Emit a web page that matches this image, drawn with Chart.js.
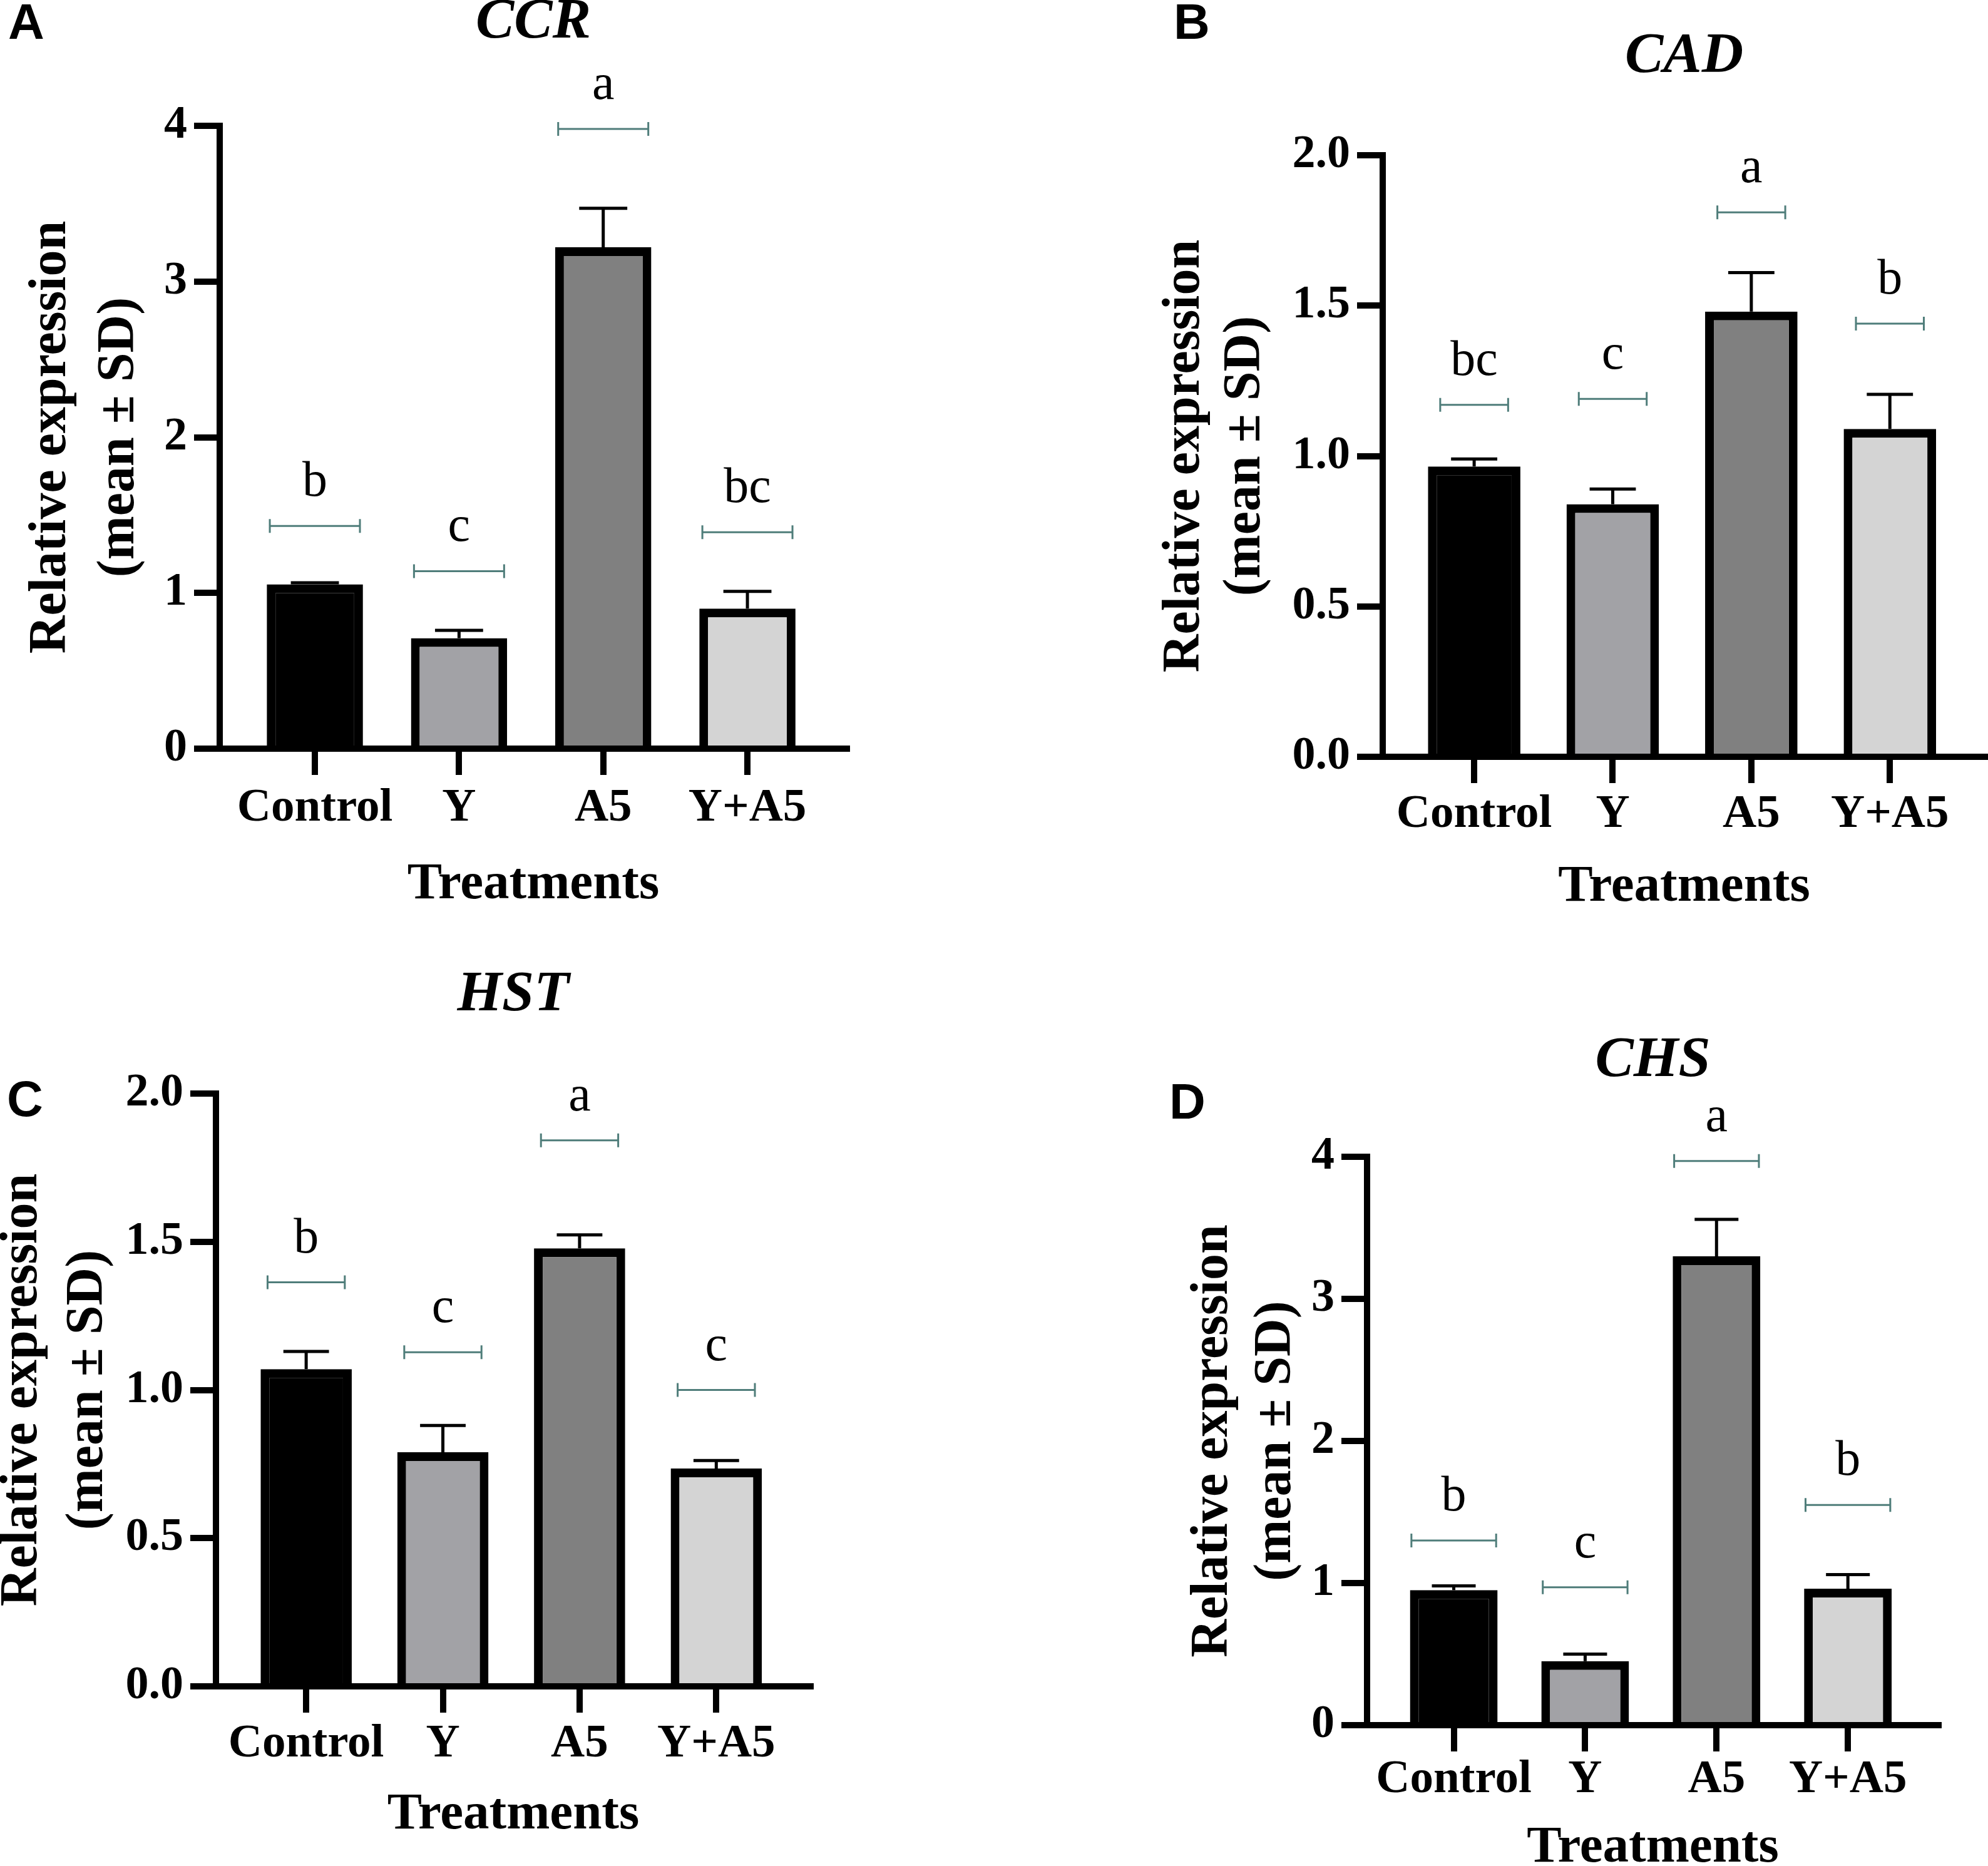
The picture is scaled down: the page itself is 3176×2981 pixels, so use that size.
<!DOCTYPE html>
<html>
<head>
<meta charset="utf-8">
<script src="https://cdn.jsdelivr.net/npm/chart.js@4.4.1/dist/chart.umd.min.js"></script>
<style>
html,body{margin:0;padding:0;background:#fff;width:3176px;height:2981px;overflow:hidden;position:relative}
canvas{position:absolute}
</style>
</head>
<body>
<canvas id="cA"></canvas>
<canvas id="cB"></canvas>
<canvas id="cC"></canvas>
<canvas id="cD"></canvas>
<script>
// ---------- data ----------
const categories = ["Control", "Y", "A5", "Y+A5"];

const ccrMeans    = [1.055, 0.71, 3.22, 0.90];
const ccrSD       = [0.01, 0.05, 0.25, 0.11];
const ccrBrackets = [1.43, 1.14, 3.98, 1.39];
const ccrLetters  = ["b", "c", "a", "bc"];

const cadMeans    = [0.965, 0.84, 1.48, 1.09];
const cadSD       = [0.025, 0.05, 0.13, 0.115];
const cadBrackets = [1.17, 1.19, 1.81, 1.44];
const cadLetters  = ["bc", "c", "a", "b"];

const hstMeans    = [1.07, 0.79, 1.478, 0.735];
const hstSD       = [0.06, 0.09, 0.045, 0.027];
const hstBrackets = [1.363, 1.127, 1.842, 1.0];
const hstLetters  = ["b", "c", "a", "c"];

const chsMeans    = [0.95, 0.45, 3.30, 0.96];
const chsSD       = [0.03, 0.05, 0.26, 0.10];
const chsBrackets = [1.30, 0.97, 3.97, 1.55];
const chsLetters  = ["b", "c", "a", "b"];

const yTicks4  = [0, 1, 2, 3, 4];
const yLabels4 = ["0", "1", "2", "3", "4"];
const yTicks2  = [0, 0.5, 1.0, 1.5, 2.0];
const yLabels2 = ["0.0", "0.5", "1.0", "1.5", "2.0"];

const barColors = ["#000000", "#a2a2a6", "#808080", "#d4d4d4"];

// ---------- layout / style ----------
const SERIF = "'Liberation Serif', 'Times New Roman', serif";
const SANS = "'Liberation Sans', Arial, sans-serif";

const panels = [
  {id:'cA', gene:'CCR', panel:'A', means:ccrMeans, sd:ccrSD, brackets:ccrBrackets, letters:ccrLetters, ticks:yTicks4, labels:yLabels4,
   cx:0, cy:0, cw:1588, ch:1490, L:351, R:1353, T:201, B:1196, yTitle1:82, yLH:1.30, xTitleY:1414, titleY:36, lx:42, ly:40, bw:0.625, xLabPad:9},
  {id:'cB', gene:'CAD', panel:'B', means:cadMeans, sd:cadSD, brackets:cadBrackets, letters:cadLetters, ticks:yTicks2, labels:yLabels2,
   cx:1588, cy:0, cw:1588, ch:1490, L:2209, R:3172, T:248, B:1209, yTitle1:1893, yLH:1.16, xTitleY:1418, titleY:91, lx:1904, ly:40, bw:0.49, xLabPad:6},
  {id:'cC', gene:'HST', panel:'C', means:hstMeans, sd:hstSD, brackets:hstBrackets, letters:hstLetters, ticks:yTicks2, labels:yLabels2,
   cx:-60, cy:1490, cw:1648, ch:1491, L:345, R:1295, T:1747, B:2694, yTitle1:36, yLH:1.25, xTitleY:2900, titleY:1590, lx:40, ly:1761, bw:0.565, xLabPad:6},
  {id:'cD', gene:'CHS', panel:'D', means:chsMeans, sd:chsSD, brackets:chsBrackets, letters:chsLetters, ticks:yTicks4, labels:yLabels4,
   cx:1588, cy:1490, cw:1588, ch:1530, L:2184, R:3097, T:1848, B:2756, yTitle1:1938, yLH:1.20, xTitleY:2953, titleY:1695, lx:1897, ly:1765, bw:0.645, xLabPad:1}
];

const annotPlugin = {
  id: 'annot',
  afterDatasetsDraw(chart, args, o) {
    const ctx = chart.ctx;
    const xs = chart.scales.x, ys = chart.scales.y;
    const meta = chart.getDatasetMeta(0);
    const step = xs.getPixelForValue(1) - xs.getPixelForValue(0);
    ctx.save();
    meta.data.forEach((bar, i) => {
      const cx = bar.x, w = bar.width;
      const yv = ys.getPixelForValue(o.means[i]);
      const ye = ys.getPixelForValue(o.means[i] + o.sd[i]);
      // error bar (upper only)
      ctx.strokeStyle = '#000';
      ctx.lineWidth = 5;
      ctx.lineCap = 'butt';
      ctx.beginPath();
      ctx.moveTo(cx, yv); ctx.lineTo(cx, ye);
      ctx.moveTo(cx - w * 0.25, ye); ctx.lineTo(cx + w * 0.25, ye);
      ctx.stroke();
      // significance bracket
      const yb = ys.getPixelForValue(o.brackets[i]);
      const hw = o.bw * step / 2;
      ctx.strokeStyle = '#4f7d7a';
      ctx.lineWidth = 3;
      ctx.beginPath();
      ctx.moveTo(cx - hw, yb); ctx.lineTo(cx + hw, yb);
      ctx.moveTo(cx - hw, yb - 11); ctx.lineTo(cx - hw, yb + 11);
      ctx.moveTo(cx + hw, yb - 11); ctx.lineTo(cx + hw, yb + 11);
      ctx.stroke();
      // letter
      ctx.fillStyle = '#000';
      ctx.font = '80px ' + SERIF;
      ctx.textAlign = 'center';
      ctx.textBaseline = 'alphabetic';
      ctx.fillText(o.letters[i], cx, yb - 48);
    });
    // panel letter
    ctx.fillStyle = '#000';
    ctx.font = 'bold 80px ' + SANS;
    ctx.textAlign = 'center';
    ctx.textBaseline = 'middle';
    ctx.fillText(o.panel, o.lx, o.ly);
    ctx.restore();
  }
};

function makeChart(p) {
  const canvas = document.getElementById(p.id);
  canvas.width = p.cw; canvas.height = p.ch;
  canvas.style.left = p.cx + 'px'; canvas.style.top = p.cy + 'px';
  canvas.style.width = p.cw + 'px'; canvas.style.height = p.ch + 'px';

  const L = p.L - p.cx, R = p.R - p.cx, T = p.T - p.cy, B = p.B - p.cy;
  const yTitleLH = 84 * p.yLH;
  const padLeft = (p.yTitle1 - p.cx) - yTitleLH / 2;
  const yWidth = L - padLeft;
  const padRight = p.cw - R;
  const xTitleLH = 83 * 1.2;
  const xScaleBottom = (p.xTitleY - p.cy) + xTitleLH / 2;
  const padBottom = p.ch - xScaleBottom;
  const xHeight = xScaleBottom - B;
  const tLH = 92 * 0.7;
  const tY = p.titleY - p.cy;
  const tPadTop = tY - tLH / 2;
  const tPadBottom = T - tY - tLH / 2;

  const axisGrid = {display:true, offset:false, drawOnChartArea:false, drawTicks:true, tickWidth:10, tickColor:'#000', color:'#000', lineWidth:10};
  const axisBorder = {display:true, color:'#000', width:10};

  new Chart(canvas, {
    type: 'bar',
    data: {
      datasets: [{
        data: p.means.map((v, i) => ({x: i, y: v})),
        backgroundColor: barColors,
        borderColor: '#000',
        borderWidth: 14,
        borderSkipped: 'start',
        barPercentage: 0.667,
        categoryPercentage: 1.0
      }]
    },
    options: {
      responsive: false,
      animation: false,
      devicePixelRatio: 1,
      events: [],
      layout: {padding: {left: padLeft, right: padRight, top: 0, bottom: padBottom}},
      scales: {
        x: {
          type: 'linear', min: -0.66, max: 3.69, offset: false, bounds: 'data',
          afterBuildTicks: s => { s.ticks = categories.map((c, i) => ({value: i})); },
          afterFit: s => { s.height = xHeight; },
          ticks: {callback: v => categories[v], font: {family: SERIF, size: 75, weight: 'bold'}, color: '#000', padding: p.xLabPad, maxRotation: 0, autoSkip: false},
          grid: Object.assign({}, axisGrid, {tickLength: 42}),
          border: axisBorder,
          title: {display: true, text: 'Treatments', font: {family: SERIF, size: 83, weight: 'bold', lineHeight: 1.2}, color: '#000', padding: 0}
        },
        y: {
          type: 'linear', min: 0, max: p.ticks[p.ticks.length - 1],
          afterBuildTicks: s => { s.ticks = p.ticks.map(v => ({value: v})); },
          afterFit: s => { s.width = yWidth; },
          ticks: {callback: (v, i) => p.labels[i], font: {family: SERIF, size: 74, weight: 'bold'}, color: '#000', padding: 11},
          grid: Object.assign({}, axisGrid, {tickLength: 41}),
          border: axisBorder,
          title: {display: true, text: ['Relative expression', '(mean \u00b1 SD)'], font: {family: SERIF, size: 84, weight: 'bold', lineHeight: p.yLH}, color: '#000', padding: 0}
        }
      },
      plugins: {
        legend: {display: false},
        tooltip: {enabled: false},
        title: {display: true, text: p.gene, fullSize: false, font: {family: SERIF, size: 92, weight: 'bold', style: 'italic', lineHeight: 0.7}, color: '#000', padding: {top: tPadTop, bottom: tPadBottom}},
        annot: {means: p.means, sd: p.sd, brackets: p.brackets, letters: p.letters, bw: p.bw, panel: p.panel, lx: p.lx - p.cx, ly: p.ly - p.cy}
      }
    },
    plugins: [annotPlugin]
  });
}

panels.forEach(makeChart);
</script>
</body>
</html>
